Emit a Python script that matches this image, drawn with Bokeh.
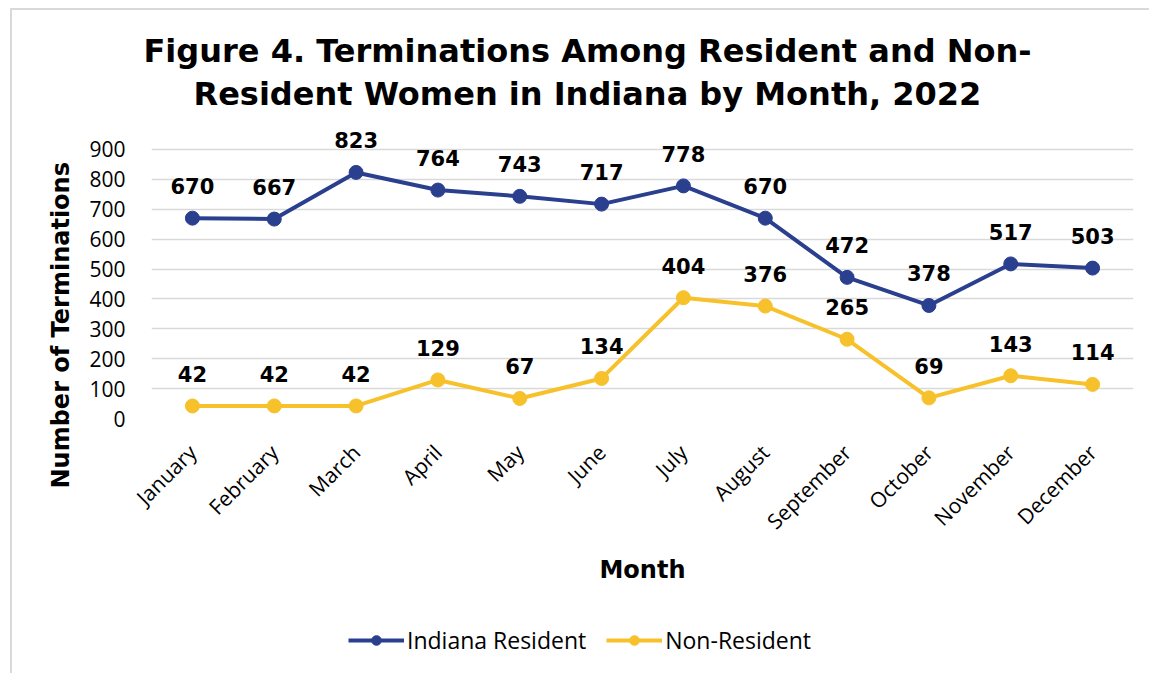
import math
import numpy as np
from bokeh.plotting import figure
from bokeh.layouts import column
from bokeh.models import (ColumnDataSource, Legend, LegendItem, FixedTicker,
                          Range1d, Title)
from bokeh.core.properties import value
from bokeh.embed import file_html
from bokeh.resources import INLINE

months = ["January", "February", "March", "April", "May", "June", "July",
          "August", "September", "October", "November", "December"]
indiana_resident = [670, 667, 823, 764, 743, 717, 778, 670, 472, 378, 517, 503]
non_resident = [42, 42, 42, 129, 67, 134, 404, 376, 265, 69, 143, 114]
y_ticks = [0, 100, 200, 300, 400, 500, 600, 700, 800, 900]
series_names = ["Indiana Resident", "Non-Resident"]

BLUE = "#2B3F8F"
YELLOW = "#F7C12B"
BOLD_FONT = "DejaVu Sans"
W, H = 1139, 590

p = figure(x_range=months, y_range=Range1d(0, 1000), width=W, height=H,
           title=None, output_backend="svg", toolbar_location=None,
           min_border_left=139, min_border_right=18, min_border_top=109,
           min_border_bottom=182)
p.styles = {"border-left": "2px solid #d9d9d9", "border-top": "2px solid #d9d9d9",
            "box-sizing": "border-box", "margin-left": "10px", "margin-top": "8px"}
p.outline_line_color = None
p.xgrid.grid_line_color = None
p.ygrid.grid_line_color = "#d9d9d9"
p.ygrid.grid_line_width = 1.5
p.yaxis.ticker = FixedTicker(ticks=y_ticks)
for ax in (p.xaxis[0], p.yaxis[0]):
    ax.axis_line_color = None
    ax.major_tick_line_color = None
    ax.minor_tick_line_color = None
    ax.major_label_text_font = "Open Sans"
    ax.major_label_text_color = "#000000"
p.yaxis.major_label_text_font_size = "21px"
p.yaxis.major_label_standoff = 20
p.xaxis.major_label_text_font_size = "21px"
p.xaxis.major_label_orientation = math.pi / 4
p.xaxis.major_label_standoff = 24
p.xaxis.axis_label = "Month"
p.xaxis.axis_label_text_font = BOLD_FONT
p.xaxis.axis_label_text_font_style = "bold"
p.xaxis.axis_label_text_font_size = "24px"
p.xaxis.axis_label_text_color = "#000000"
p.xaxis.axis_label_standoff = 8

src = ColumnDataSource(dict(month=months, ind=indiana_resident, non=non_resident,
                            ind_t=[str(v) for v in indiana_resident],
                            non_t=[str(v) for v in non_resident]))

p.line("month", "ind", source=src, color=BLUE, line_width=4)
p.scatter("month", "ind", source=src, size=14, color=BLUE)
p.line("month", "non", source=src, color=YELLOW, line_width=4)
p.scatter("month", "non", source=src, size=14, color=YELLOW)

for col, tcol in (("ind", "ind_t"), ("non", "non_t")):
    p.text("month", col, text=tcol, source=src, y_offset=-32,
           text_align="center", text_baseline="middle",
           text_font=value(BOLD_FONT), text_font_style="bold",
           text_font_size="21px", text_color="#000000")

title1 = "Figure 4. Terminations Among Resident and Non-"
title2 = "Resident Women in Indiana by Month, 2022"
# nearest panel first
p.add_layout(Title(text=title2, align="left", offset=42, standoff=14,
                   text_font=BOLD_FONT, text_font_style="bold",
                   text_font_size="32px", text_color="#000000"), "above")
p.add_layout(Title(text=title1, align="left", offset=-8, standoff=-8,
                   text_font=BOLD_FONT, text_font_style="bold",
                   text_font_size="32px", text_color="#000000"), "above")

p.add_layout(Title(text="Number of Terminations", align="left", offset=-70,
                   vertical_align="middle", standoff=22,
                   text_font=BOLD_FONT, text_font_style="bold",
                   text_font_size="24px", text_color="#000000"), "left")

# legend strip below the chart (legend-only renderers carry no visible data)
p2 = figure(width=W, height=75, x_range=Range1d(0, 1), y_range=Range1d(0, 1),
            output_backend="svg", toolbar_location=None, title=None,
            x_axis_location=None, y_axis_location=None,
            min_border_left=0, min_border_right=0, min_border_top=0,
            min_border_bottom=0)
p2.styles = {"border-left": "2px solid #d9d9d9", "box-sizing": "border-box",
             "margin-left": "10px"}
p2.outline_line_color = None
p2.grid.visible = False
items = []
empty = dict(x=np.array([np.nan]), y=np.array([np.nan]))
for name, color in zip(series_names, (BLUE, YELLOW)):
    lr = p2.line(x="x", y="y", source=ColumnDataSource(empty), color=color,
                 line_width=4)
    sr = p2.scatter(x="x", y="y", source=ColumnDataSource(empty), size=14,
                    color=color)
    items.append(LegendItem(label=name, renderers=[lr, sr]))
legend = Legend(items=items, orientation="horizontal", location=(197, 17),
                label_text_font="Open Sans", label_text_font_size="23px",
                label_text_color="#000000", glyph_width=56, glyph_height=24,
                label_standoff=3, spacing=20, padding=10, margin=0,
                border_line_color=None, background_fill_alpha=0)
p2.add_layout(legend, "center")

layout = column(p, p2, spacing=0)
open("out.html", "w").write(file_html(layout, INLINE))
